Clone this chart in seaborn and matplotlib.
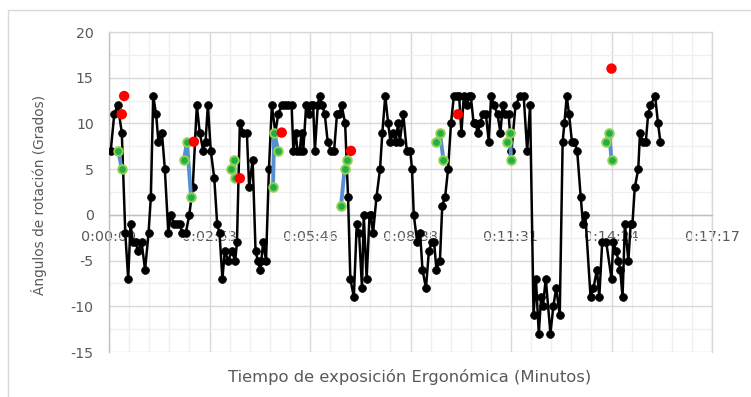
import matplotlib
matplotlib.use("Agg")
import matplotlib.pyplot as plt
import seaborn as sns
import pandas as pd
from matplotlib.ticker import FixedLocator, MultipleLocator, FuncFormatter
from matplotlib.patches import Rectangle

# Ángulo medido en cada instante (tiempo en segundos desde el inicio)
tiempo_s = [3, 9, 15, 22, 28, 33, 37, 41, 46, 50, 56, 62, 68, 72, 76, 81, 85, 91, 96, 102,
            106, 112, 117, 122, 126, 132, 138, 144, 151,
            156, 162, 166, 170, 175, 181, 186, 190, 195, 199, 205, 211, 217, 220, 225, 231,
            237, 241, 247, 252, 256, 260, 262, 265, 270, 275, 280,
            286, 291, 297, 303, 308, 314, 317, 321, 324, 328, 331, 334, 339, 344, 347, 351,
            354, 359, 362, 367, 371, 376, 382, 387, 392, 396, 400, 406,
            411, 415, 421, 426, 430, 435, 438, 443, 448, 450, 454, 460, 466, 470, 475, 480,
            484, 488, 493, 497, 500, 506, 512, 518, 521, 524,
            530, 535, 539, 545, 550, 555, 559, 563, 569, 573, 578, 583, 588, 593, 598, 602,
            606, 610, 615, 619, 622, 627,
            630, 634, 638, 643, 648, 653, 657, 662, 668, 673, 677, 681, 687, 692, 699, 707,
            713, 719, 724,
            730, 734, 739, 743, 746, 751, 759, 764, 769, 775, 780, 783, 787, 791, 796, 800,
            805, 811, 815, 819,
            828, 833, 839, 843, 848, 855, 864, 867, 872, 876, 879, 883, 887, 893, 897, 900,
            904, 910, 913, 918, 923, 927, 931, 939, 944, 948]
angulo = [7, 11, 12, 9, -2, -7, -1, -3, -3, -4, -3, -6, -2, 2, 13, 11, 8, 9, 5, -2,
          0, -1, -1, -1, -2, -2, 0, 3, 12,
          9, 7, 8, 12, 7, 4, -1, -2, -7, -4, -5, -4, -5, -3, 10, 9,
          9, 3, 6, -4, -5, -6, -5, -3, -5, 5, 12,
          9, 11, 12, 12, 12, 12, 7, 9, 7, 7, 9, 7, 12, 11, 12, 12,
          7, 12, 13, 12, 11, 8, 7, 7, 11, 11, 12, 10,
          2, -7, -9, -1, -2, -8, 0, -7, 0, 0, -2, 2, 5, 9, 13, 10,
          8, 9, 8, 10, 8, 11, 7, 7, 5, 0,
          -3, -2, -6, -8, -4, -3, -3, -6, -5, 1, 2, 5, 10, 13, 13, 13,
          9, 13, 12, 13, 13, 10,
          10, 9, 10, 11, 11, 8, 13, 12, 11, 9, 12, 11, 11, 7, 12, 13,
          13, 7, 12,
          -11, -7, -13, -9, -10, -7, -13, -10, -8, -11, 8, 10, 13, 11, 8, 8,
          7, 2, -1, 0,
          -9, -8, -6, -9, -3, -3, -7, -3, -4, -5, -6, -9, -1, -5, -1, -1,
          3, 5, 9, 8, 8, 11, 12, 13, 10, 8]

# Tramos destacados (puntos verdes unidos por línea azul)
verde_grupo = [1, 1, 2, 2, 2, 3, 3, 3, 4, 4, 4, 5, 5, 5, 6, 6, 6, 7, 7, 7, 8, 8, 8]
verde_t = [16, 22, 129, 134, 141, 210, 215, 216, 282, 284, 291, 399, 405, 410,
           563, 569, 575, 684, 690, 691, 855, 860, 864]
verde_v = [7, 5, 6, 8, 2, 5, 6, 4, 3, 9, 7, 1, 5, 6, 8, 9, 6, 8, 9, 6, 8, 9, 6]

# Valores máximos (puntos rojos)
rojo_t = [22, 26, 146, 225, 297, 416, 600, 864]
rojo_v = [11, 13, 8, 4, 9, 7, 11, 16]

x_ticks = [0, 172.8, 345.6, 518.4, 691.2, 864.0, 1036.8]
x_tick_labels = ["0:00:00", "0:02:53", "0:05:46", "0:08:38", "0:11:31", "0:14:24", "0:17:17"]
y_ticks = [-15, -10, -5, 0, 5, 10, 15, 20]

sns.set_theme(style="white")
plt.rcParams["font.family"] = ["DejaVu Sans"]
plt.rcParams["axes.unicode_minus"] = False

gris_texto = "#595959"

fig = plt.figure(figsize=(7.51, 3.97), dpi=100)
ax = fig.add_axes([109 / 751, 1 - 352 / 397, 603 / 751, 320 / 397])

df_negro = pd.DataFrame({"t": tiempo_s, "ang": angulo})
df_verde = pd.DataFrame({"t": verde_t, "ang": verde_v, "grupo": verde_grupo})
df_rojo = pd.DataFrame({"t": rojo_t, "ang": rojo_v})

sns.lineplot(data=df_negro, x="t", y="ang", sort=False, estimator=None, ax=ax,
             color="black", linewidth=1.8, marker="o", markersize=5.6,
             markerfacecolor="black", markeredgecolor="black", markeredgewidth=0.5,
             zorder=3)
sns.lineplot(data=df_verde, x="t", y="ang", units="grupo", estimator=None, sort=False,
             ax=ax, color="#5591D0", linewidth=2.8, marker="o", markersize=6.2,
             markerfacecolor="#1FAE47", markeredgecolor="#92D050", markeredgewidth=1.4,
             zorder=4)
sns.scatterplot(data=df_rojo, x="t", y="ang", ax=ax, color="#FF0000", s=56,
                edgecolor="none", linewidth=0, zorder=5)

ax.set_xlim(0, 1036.8)
ax.set_ylim(-15, 20)
ax.xaxis.set_major_locator(FixedLocator(x_ticks))
ax.set_xticklabels(x_tick_labels)
ax.xaxis.set_minor_locator(MultipleLocator(34.56))
ax.set_yticks(y_ticks)
ax.yaxis.set_major_formatter(FuncFormatter(lambda v, p: f"{int(v)}"))
ax.yaxis.set_minor_locator(MultipleLocator(2.5))

ax.grid(which="major", color="#D9D9D9", linewidth=1.0)
ax.grid(which="minor", color="#EFEFEF", linewidth=0.9)
ax.set_axisbelow(True)

ax.spines["bottom"].set_position(("data", 0))
ax.spines["bottom"].set_color("#BFBFBF")
ax.spines["left"].set_color("#BFBFBF")
for s in ("top", "right"):
    ax.spines[s].set_color("#D9D9D9")
for s in ax.spines.values():
    s.set_linewidth(1.0)
    s.set_zorder(1)

ax.tick_params(axis="both", which="both", length=0)
ax.tick_params(axis="x", pad=11, labelsize=10.3, labelcolor=gris_texto)
ax.tick_params(axis="y", pad=11, labelsize=10.2, labelcolor=gris_texto)

ax.set_xlabel("Tiempo de exposición Ergonómica (Minutos)", fontsize=11.8, color=gris_texto)
ax.set_ylabel("Ángulos de rotación (Grados)", fontsize=9.8, color=gris_texto)
ax.xaxis.set_label_coords(0.499, -0.053)
ax.yaxis.set_label_coords(-0.103, 0.49)

fig.add_artist(Rectangle((8 / 751, -0.2), 2.0, 0.2 + 1 - 10 / 397, transform=fig.transFigure,
                         fill=False, edgecolor="#D9D9D9", linewidth=1.0, clip_on=False))

fig.savefig("out.png", dpi=100)
